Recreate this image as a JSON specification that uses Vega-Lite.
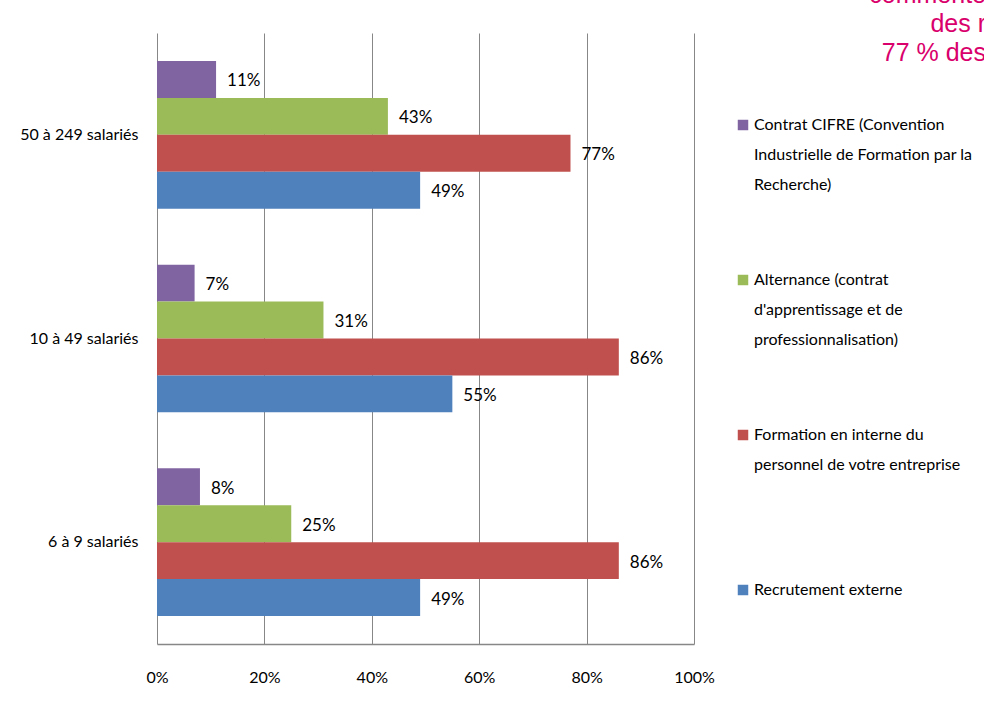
{
  "$schema": "https://vega.github.io/schema/vega-lite/v6.json",
  "width": 537,
  "height": 611,
  "autosize": "none",
  "padding": {"left": 157, "top": 33, "right": 290, "bottom": 71},
  "background": "white",
  "title": {
    "text": ["commente", "des r", "77 % des"],
    "anchor": "start",
    "frame": "group",
    "align": "right",
    "baseline": "top",
    "dx": 829,
    "dy": 37,
    "font": "Liberation Sans",
    "fontSize": 25,
    "fontWeight": "normal",
    "color": "#d9006c",
    "lineHeight": 29
  },
  "data": {
    "values": [
      {"taille": "50 à 249 salariés", "type": "Contrat CIFRE", "value": 0.11},
      {"taille": "50 à 249 salariés", "type": "Alternance", "value": 0.43},
      {"taille": "50 à 249 salariés", "type": "Formation en interne", "value": 0.77},
      {"taille": "50 à 249 salariés", "type": "Recrutement externe", "value": 0.49},
      {"taille": "10 à 49 salariés", "type": "Contrat CIFRE", "value": 0.07},
      {"taille": "10 à 49 salariés", "type": "Alternance", "value": 0.31},
      {"taille": "10 à 49 salariés", "type": "Formation en interne", "value": 0.86},
      {"taille": "10 à 49 salariés", "type": "Recrutement externe", "value": 0.55},
      {"taille": "6 à 9 salariés", "type": "Contrat CIFRE", "value": 0.08},
      {"taille": "6 à 9 salariés", "type": "Alternance", "value": 0.25},
      {"taille": "6 à 9 salariés", "type": "Formation en interne", "value": 0.86},
      {"taille": "6 à 9 salariés", "type": "Recrutement externe", "value": 0.49}
    ]
  },
  "encoding": {
    "y": {
      "field": "taille",
      "type": "nominal",
      "sort": ["50 à 249 salariés", "10 à 49 salariés", "6 à 9 salariés"],
      "scale": {"paddingInner": 0.275, "paddingOuter": 0.1375},
      "axis": {
        "title": null,
        "domain": false,
        "ticks": false,
        "grid": false,
        "labelPadding": 19,
        "labelFont": "Lato",
        "labelFontSize": 16,
        "labelColor": "#000000"
      }
    },
    "yOffset": {
      "field": "type",
      "type": "nominal",
      "sort": ["Contrat CIFRE", "Alternance", "Formation en interne", "Recrutement externe"],
      "scale": {"paddingInner": 0, "paddingOuter": 0}
    },
    "x": {
      "field": "value",
      "type": "quantitative",
      "scale": {"domain": [0, 1], "nice": false},
      "axis": {
        "title": null,
        "format": ".0%",
        "values": [0, 0.2, 0.4, 0.6, 0.8, 1],
        "grid": true,
        "gridColor": "#878787",
        "gridWidth": 1,
        "domain": true,
        "domainColor": "#878787",
        "domainWidth": 1.5,
        "ticks": false,
        "labelPadding": 25,
        "labelFont": "Lato",
        "labelFontSize": 16,
        "labelColor": "#000000",
        "labelFlush": false
      }
    }
  },
  "layer": [
    {
      "mark": {"type": "bar"},
      "encoding": {
        "color": {
          "field": "type",
          "type": "nominal",
          "scale": {
            "domain": ["Contrat CIFRE", "Alternance", "Formation en interne", "Recrutement externe"],
            "range": ["#8064A2", "#9BBB59", "#C0504D", "#4F81BD"]
          },
          "legend": {
            "title": null,
            "orient": "none",
            "legendX": 578,
            "legendY": 84,
            "padding": 0,
            "rowPadding": 79,
            "symbolType": "square",
            "symbolSize": 110,
            "symbolStrokeWidth": 0,
            "labelOffset": 3,
            "labelFont": "Lato",
            "labelFontSize": 16,
            "labelColor": "#000000",
            "labelBaseline": "middle",
            "labelLimit": 400,
            "labelExpr": "datum.value == 'Contrat CIFRE' ? ['Contrat CIFRE (Convention', 'Industrielle de Formation par la', 'Recherche)'] : datum.value == 'Alternance' ? ['Alternance (contrat', \"d'apprentissage et de\", 'professionnalisation)'] : datum.value == 'Formation en interne' ? ['Formation en interne du', 'personnel de votre entreprise', '\u00a0'] : ['Recrutement externe', '\u00a0', '\u00a0']"
          }
        }
      }
    },
    {
      "mark": {
        "type": "text",
        "align": "left",
        "baseline": "middle",
        "dx": 11,
        "dy": 2,
        "font": "Lato",
        "fontSize": 17,
        "color": "#000000"
      },
      "encoding": {
        "text": {"field": "value", "type": "quantitative", "format": ".0%"}
      }
    }
  ],
  "config": {
    "view": {"stroke": null},
    "style": {"guide-label": {"lineHeight": 30}}
  }
}
